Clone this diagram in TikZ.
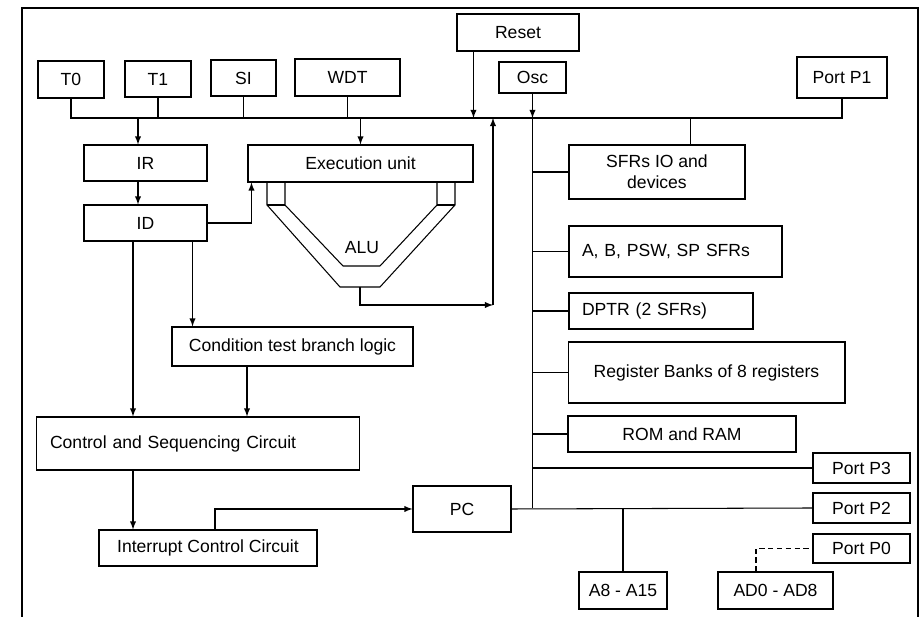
\documentclass[tikz,border=0pt]{standalone}
\usepackage{fontspec}
\setmainfont{Liberation Sans}
\usetikzlibrary{arrows,positioning,calc}
\tikzset{>=latex}
\tikzset{
	blk/.style={draw, inner sep=2pt, font=\fontsize{10}{12}\selectfont, align=center},
	blkl/.style={draw, inner ysep=2pt, font=\fontsize{10}{12}\selectfont, align=left}
}

\begin{document}
\begin{tikzpicture}[x=0.02cm,y=-0.02cm,line width=0.6pt]
	\useasboundingbox (0,0) rectangle (921,617);
	% Outer frame
	\draw (22,617) |- (918,8) -- (918,617);

	% Defining blocks
	\node[blk,minimum width=1.32cm,minimum height=0.74cm] (t0) at (71,79.5) {T0}; %Timer 0
	\node[blk,minimum width=1.32cm,minimum height=0.72cm] (t1) at (158,79) {T1}; %Timer 1
	\node[blk,minimum width=1.30cm,minimum height=0.72cm] (si) at (243.5,78) {SI}; %Serial
	\node[blk,minimum width=2.10cm,minimum height=0.74cm] (wdt) at (347.5,77.5) {WDT}; %Watchdog
	\node[blk,minimum width=2.44cm,minimum height=0.74cm] (reset) at (518,32.5) {Reset};
	\node[blk,minimum width=1.34cm,minimum height=0.62cm] (osc) at (532.5,77.5) {Osc};
	\node[blk,minimum width=1.80cm,minimum height=0.82cm] (p1) at (842,77.5) {Port P1};
	\node[blk,minimum width=2.46cm,minimum height=0.72cm] (ir) at (145.5,163) {IR};
	\node[blk,minimum width=2.46cm,minimum height=0.72cm] (id) at (145.5,223) {ID};
	\node[blk,minimum width=4.50cm,minimum height=0.74cm] (exec) at (360.5,163.5) {Execution unit};
	\node[blk,minimum width=4.82cm,minimum height=0.78cm] (cond) at (292.5,346.5) {Condition test branch logic};
	\node[blkl,inner xsep=0.28cm,text width=5.92cm,minimum height=1.06cm] (ctrl) at (198,443.5) {Control and Sequencing Circuit};
	\node[blk,minimum width=4.36cm,minimum height=0.72cm] (intr) at (208,548) {Interrupt Control Circuit};
	\node[blk,minimum width=1.96cm,minimum height=0.92cm] (pc) at (462,509) {PC};
	\node[blk,minimum width=3.52cm,minimum height=1.08cm] (sfr) at (657,172) {SFRs IO and\\devices};
	\node[blkl,inner xsep=0.26cm,text width=3.74cm,minimum height=1.02cm] (abp) at (675.5,251.5) {A, B, PSW, SP SFRs};
	\node[blkl,inner xsep=0.26cm,text width=3.16cm,minimum height=0.72cm] (dptr) at (661,311) {DPTR (2 SFRs)};
	\node[blk,minimum width=5.54cm,minimum height=1.22cm] (regb) at (706.5,372.5) {Register Banks of 8 registers};
	\node[blk,minimum width=4.56cm,minimum height=0.72cm] (mem) at (682,434) {ROM and RAM};
	\node[blk,minimum width=1.94cm,minimum height=0.60cm] (p3) at (861.5,468) {Port P3};
	\node[blk,minimum width=1.94cm,minimum height=0.60cm] (p2) at (861.5,508) {Port P2};
	\node[blk,minimum width=1.94cm,minimum height=0.58cm] (p0) at (861.5,548.5) {Port P0};
	\node[blk,minimum width=1.76cm,minimum height=0.74cm] (addrh) at (623,590.5) {A8 - A15};
	\node[blk,minimum width=2.30cm,minimum height=0.74cm] (addrl) at (775.5,590.5) {AD0 - AD8};
	\node[font=\fontsize{10}{12}\selectfont] (alu) at (362,248) {ALU};

	% Bus coordinates
	\coordinate (busL) at (71,118);
	\coordinate (busR) at (842,118);
	\coordinate (aluout) at (360,287); %ALU bottom
	\coordinate (ret) at (493,305); %ALU return

	% ALU body
	\draw (267,182) -- (267,205) -- (340,287) -- (380,287) -- (455,205) -- (455,182);
	\draw (285,182) -- (285,205) -- (343,266) -- (380,266) -- (437,205) -- (437,182);
	\draw (267,205) -- (285,205);
	\draw (437,205) -- (455,205);

	% Drawing the bus
	\draw (t0.south) -- (busL) -- (busR) -- (p1.south);
	\draw (t1.south) -- (t1.south |- busL);
	\draw (si.south) -- (si.south |- busL);
	\draw (wdt.south) -- (wdt.south |- busL);
	\draw[->] ([xshift=0.34cm]reset.south west) -- ([xshift=0.34cm]reset.south west |- busL);
	\draw[->] (osc.south) -- (osc.south |- busL);
	\draw (osc.south |- busL) -- (osc.south |- p2.west);
	\draw[->] ([xshift=-0.15cm]ir.north |- busL) -- ([xshift=-0.15cm]ir.north);
	\draw[->] (exec.north |- busL) -- (exec.north);
	\draw ([xshift=-1.1cm]sfr.north east |- busL) -- ([xshift=-1.1cm]sfr.north east);

	% Left side
	\draw[->] ([xshift=-0.15cm]ir.south) -- ([xshift=-0.15cm]id.north);
	\draw[->] (id.east) -| ([xshift=0.08cm]exec.south west);
	\draw[->] ([xshift=-0.3cm]id.south east) -- ([xshift=-0.3cm]id.south east |- cond.north);
	\draw[->] ([xshift=-0.25cm]id.south) -- ([xshift=-0.25cm]id.south |- ctrl.north);
	\draw[->] ([xshift=-0.91cm]cond.south) -- ([xshift=-0.91cm]cond.south |- ctrl.north);
	\draw[->] ([xshift=-1.3cm]ctrl.south) -- ([xshift=-1.3cm]ctrl.south |- intr.north);
	\draw[->] ([xshift=0.14cm]intr.north) |- (pc.west);
	\draw[->] (aluout) |- (ret);
	\draw[->] (ret) -- (ret |- busL);

	% Right side
	\draw (sfr.west -| osc.south) -- (sfr.west);
	\draw (abp.west -| osc.south) -- (abp.west);
	\draw (dptr.west -| osc.south) -- (dptr.west);
	\draw (regb.west -| osc.south) -- (regb.west);
	\draw (mem.west -| osc.south) -- (mem.west);
	\draw (p3.west -| osc.south) -- (p3.west);
	\draw (pc.east) -- (p2.west);
	\draw (addrh.north |- p2.west) -- (addrh.north);
	\draw[densely dashed] ([xshift=-0.39cm]addrl.north) |- (p0.west);
\end{tikzpicture}
\end{document}
